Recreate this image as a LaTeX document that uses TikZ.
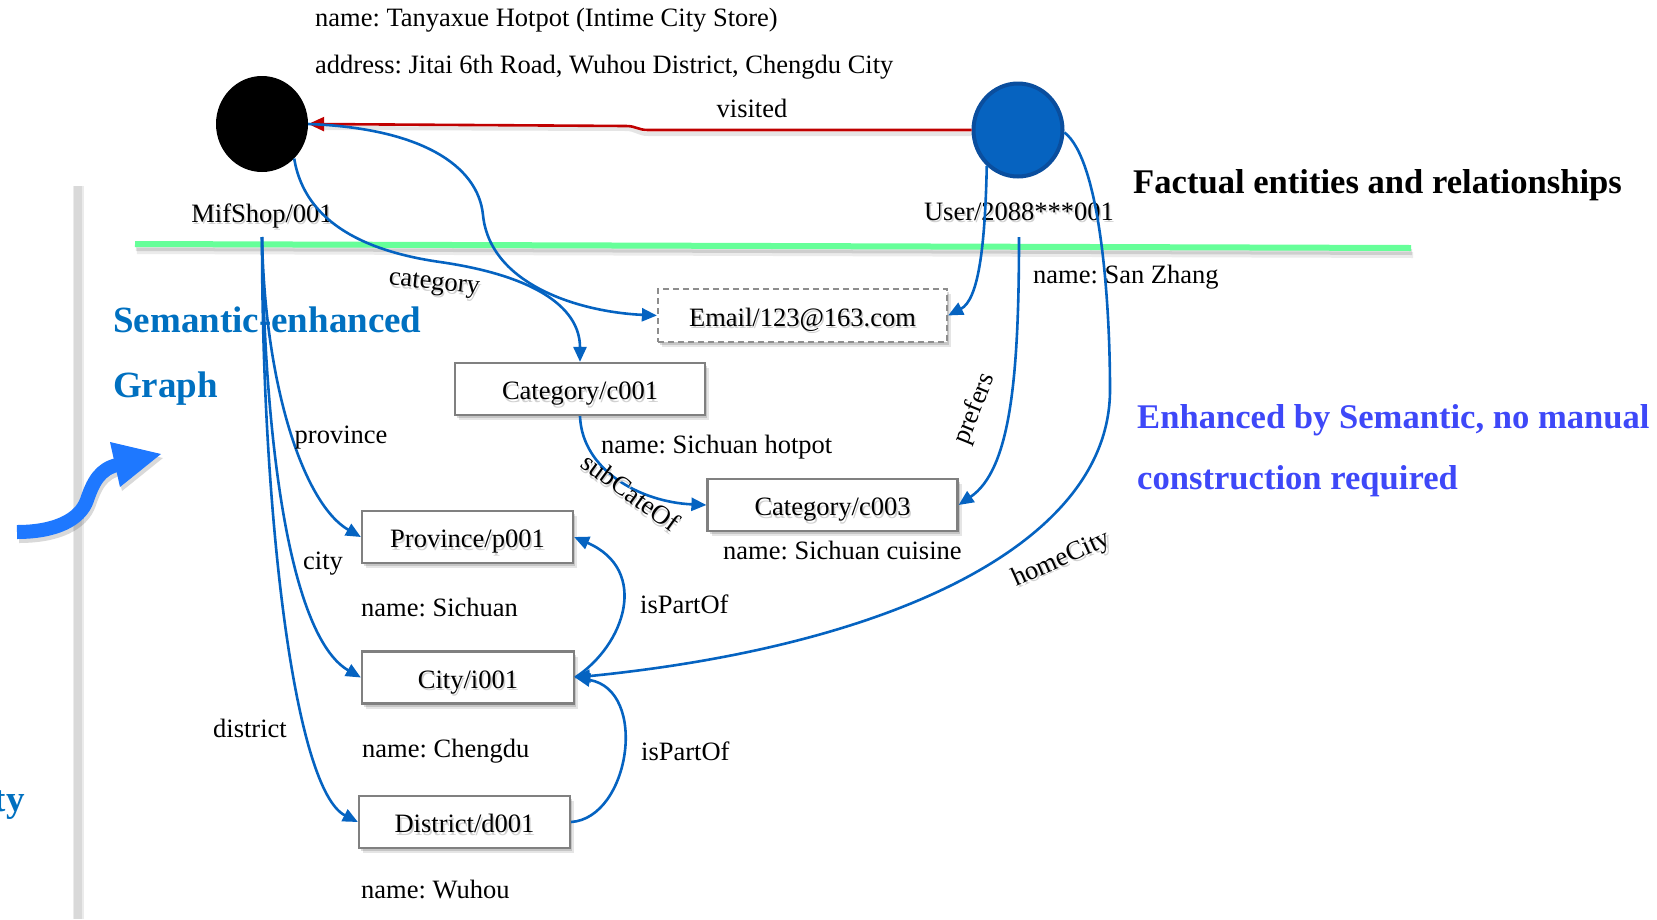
\documentclass[tikz,border=0pt]{standalone}
\usepackage{fontspec}
\setmainfont{Liberation Serif}
\usetikzlibrary{arrows.meta,shapes.geometric,shadows}
\frenchspacing

\definecolor{linkblue}{RGB}{5,99,193}
\definecolor{nodeblue}{RGB}{6,99,192}
\definecolor{rimblue}{RGB}{10,78,158}
\definecolor{factred}{RGB}{192,0,0}
\definecolor{splitgreen}{RGB}{102,255,153}
\definecolor{titleblue}{RGB}{0,112,192}
\definecolor{noteblue}{RGB}{62,72,248}
\definecolor{arrowblue}{RGB}{30,120,255}
\definecolor{boxgray}{RGB}{128,128,128}

% text with a soft grey drop shadow
\newcommand\shd[1]{\rlap{\kern1.5pt\raisebox{-2.5pt}{\textcolor{black!18}{#1}}}#1}

\tikzset{
  txt/.style={font=\fontsize{26.5}{30}\selectfont, inner sep=0pt},
  heading/.style={font=\fontsize{34.6}{40}\selectfont\bfseries, inner sep=0pt},
  note/.style={font=\fontsize{34.6}{40}\selectfont\bfseries, text=noteblue, inner sep=0pt},
  sem/.style={font=\fontsize{37}{42}\selectfont\bfseries, text=titleblue, inner sep=0pt},
  entity/.style={ellipse, inner sep=0pt},
  rec/.style={txt, rectangle, draw=boxgray, line width=2.2pt, fill=white, minimum height=52pt,
    text height=23pt, text depth=2pt,
    drop shadow={shadow xshift=4pt, shadow yshift=-5pt, opacity=0.10, fill=black},
    drop shadow={shadow xshift=2pt, shadow yshift=-3pt, opacity=0.14, fill=black}},
  dashrec/.style={rec, draw=boxgray!90, dash pattern=on 6pt off 4pt},
  rel/.style={draw=linkblue, line width=2.6pt, -{Triangle[length=15pt,width=13pt]}},
  fact/.style={draw=factred, line width=2.6pt, -{Triangle[length=16pt,width=14pt]}},
}

\begin{document}
\begin{tikzpicture}[x=1pt,y=-1pt]
\useasboundingbox (0,0) rectangle (1657,919);

% vertical rail on the left
\draw[black!8, line width=11pt] (78,186) -- (78,919);
\draw[black!15, line width=8pt] (77.5,186) -- (77.5,919);

% curved block arrow (shadow, then body)
\foreach \dx/\dy/\col/\op in {2/4/black/0.15, 0/0/arrowblue/1}{
  \begin{scope}[shift={(\dx,\dy)}, opacity=\op]
    \draw[\col, line width=14pt] (17,532) .. controls (55,532) and (80,520) .. (87,500)
      .. controls (93,482) and (100,469) .. (117,465);
    \fill[\col] (110,442) -- (161,454) -- (120,487) -- cycle;
  \end{scope}
}

% separator between facts and semantic layer
\draw[black, opacity=0.08, line width=6pt] (137,251) -- (1413,255);
\draw[black, opacity=0.12, line width=6pt] (136,248) -- (1412,252);
\draw[splitgreen, line width=6pt] (135,244) -- (1411,248);

% fact entities
\node[entity, fill=black, minimum width=92pt, minimum height=96pt] (ms) at (262,124) {};
\node[entity, fill=nodeblue, draw=rimblue, line width=4pt, minimum width=89pt, minimum height=93pt] (us) at (1018,130) {};

\node[txt, anchor=base] (msl) at (262,222) {\shd{MifShop/001}};
\node[txt, anchor=base] (usl) at (1019,220) {\shd{User/2088***001}};
\coordinate (msroot) at (262,237);
\coordinate (usroot) at (1019,237);

\node[txt, anchor=base west] (shopname) at (315,26) {name: Tanyaxue Hotpot (Intime City Store)};
\node[txt, anchor=base west] (shopaddr) at (315,73) {address: Jitai 6th Road, Wuhou District, Chengdu City};
\node[txt, anchor=base] (visl) at (752,117) {visited};
\node[heading, anchor=base west] (facts) at (1133,193) {Factual entities and relationships};
\node[txt, anchor=base west] (usname) at (1033,283) {name: San Zhang};

% captions
\node[note, anchor=base west] (note1) at (1137,428) {Enhanced by Semantic, no manual};
\node[note, anchor=base west] (note2) at (1137,489) {construction required};
\node[sem, anchor=base west] (sem1) at (113,332) {Semantic-enhanced};
\node[sem, anchor=base west] (sem2) at (113,397) {Graph};
\node[sem, anchor=base east] (semty) at (25,811) {ty};

% semantic entities
\node[dashrec, minimum width=289pt, minimum height=53pt] (em) at (802.5,315.5) {\shd{Email/123@163.com}};
\node[rec, minimum width=250pt] (c1) at (580,389) {\shd{Category/c001}};
\node[rec, minimum width=250pt] (c3) at (832.5,505) {\shd{Category/c003}};
\node[rec, minimum width=211pt] (pr) at (467.5,537) {\shd{Province/p001}};
\node[rec, minimum width=212pt] (ci) at (468,677.5) {\shd{City/i001}};
\node[rec, minimum width=211pt] (di) at (464.5,822) {\shd{District/d001}};

% properties
\node[txt, anchor=base west] (c1name) at (601,453) {name: Sichuan hotpot};
\node[txt, anchor=base west] (c3name) at (723,559) {name: Sichuan cuisine};
\node[txt, anchor=base west] (prname) at (361,616) {name: Sichuan};
\node[txt, anchor=base west] (ciname) at (362,757) {name: Chengdu};
\node[txt, anchor=base west] (diname) at (361,898) {name: Wuhou};

% visited
\draw[black, opacity=0.10, line width=4pt] ([yshift=-4pt]us.west) -- (648,134) .. controls (638,134) and (636,129) .. (626,129) -- ([yshift=-4pt,xshift=12pt]ms.east);
\draw[fact] (us.west) -- (648,130) .. controls (638,130) and (636,126) .. (626,126) -- (ms.east);

% relations
\draw[rel] (ms.east) .. controls (420,128) and (478,165) .. (483,215)
  .. controls (490,285) and (580,312) .. (em.west);
\draw[rel] (ms.-47) .. controls (305,225) and (370,252) .. (440,262)
  .. controls (530,275) and (580,305) .. (c1.north);
\draw[rel] (us.-131) .. controls (985,250) and (978,300) .. (em.east);
\draw[rel] (usroot) .. controls (1019,380) and (1010,470) .. (c3.east);
\draw[rel] (us.-3) .. controls (1100,160) and (1110,300) .. (1110,390)
  .. controls (1110,540) and (900,645) .. (ci.east);
\draw[rel] (c1.south) .. controls (582,470) and (640,502) .. (c3.west);
\draw[rel] (msroot) .. controls (265,390) and (305,505) .. (pr.west);
\draw[rel] (msroot) .. controls (265,470) and (295,640) .. (ci.west);
\draw[rel] (msroot) .. controls (262,520) and (295,790) .. (di.west);
\draw[rel] (ci.east) .. controls (625,645) and (650,570) .. (pr.east);
\draw[rel] (di.east) .. controls (630,818) and (649,690) .. (ci.east);

% relation labels
\node[txt, rotate=-6] (lcat) at (434,286) {\shd{category}};
\node[txt, rotate=-36] (lsub) at (630,493) {\shd{subCateOf}};
\node[txt, rotate=68] (lpref) at (975,409) {prefers};
\node[txt, rotate=24] (lhome) at (1062,561) {\shd{homeCity}};
\node[txt, anchor=base west] (lprov) at (294.5,443) {province};
\node[txt, anchor=base west] (lcity) at (303,569) {city};
\node[txt, anchor=base west] (ldist) at (213,737) {district};
\node[txt, anchor=base west] (lpart1) at (640,613) {isPartOf};
\node[txt, anchor=base west] (lpart2) at (641,760) {isPartOf};
\end{tikzpicture}
\end{document}
